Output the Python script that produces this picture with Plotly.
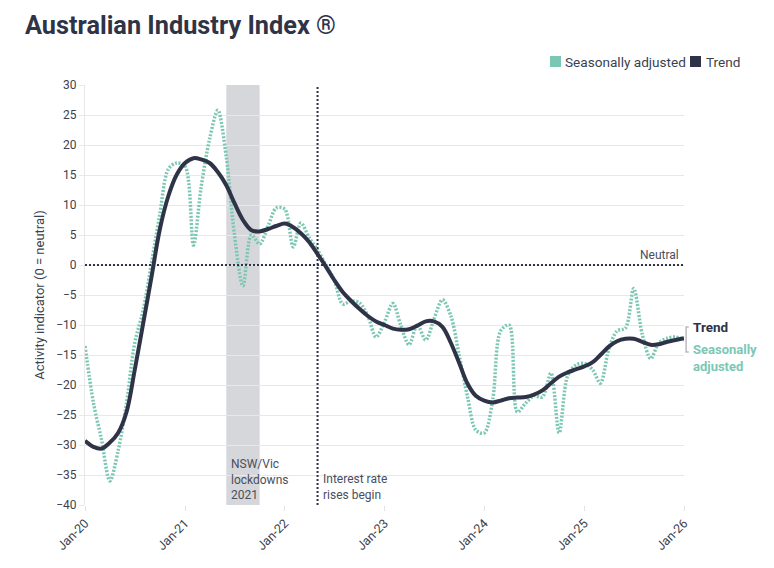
import pandas as pd
import plotly.graph_objects as go

months = pd.date_range("2020-01-01", periods=73, freq="MS")

trend = [-29.3, -30.3, -30.6, -29.6, -28.0, -24.5, -17.5, -9.7, -1.8, 6.0,
         11.5, 15.0, 17.0, 17.8, 17.6, 17.0, 15.5, 13.3, 10.3, 7.5,
         5.8, 5.6, 6.0, 6.5, 6.9, 6.3, 5.3, 3.8, 1.8, -0.3,
         -2.5, -4.5, -6.0, -7.3, -8.5, -9.4, -10.0, -10.6, -10.8, -10.7,
         -10.1, -9.4, -9.4, -10.3, -13.0, -16.3, -19.8, -21.8, -22.6, -22.9,
         -22.6, -22.2, -22.1, -22.0, -21.6, -20.9, -19.7, -18.6, -17.9, -17.4,
         -16.9, -16.2, -15.0, -13.6, -12.7, -12.3, -12.3, -12.8, -13.3, -13.2,
         -12.8, -12.5, -12.2]

seasonally_adjusted = [-13.5, -23, -29, -36, -31, -23, -13, -7.5, 0.5, 8.5,
                       16, 17, 16.5, 3.3, 13, 21, 25.8, 18, 5, -3.5,
                       5, 3.5, 6.5, 9.5, 9.3, 3, 7, 4.5, 2.5, 0,
                       -2.5, -6.5, -6, -6.3, -8.5, -12, -9.5, -6.4, -10, -13.3,
                       -10, -12.5, -9, -5.8, -8.5, -15, -22, -27.5, -28, -22.5,
                       -11, -10, -24.5, -23, -21.8, -22, -18, -28, -18.5, -16.7,
                       -16.4, -17.5, -19.7, -14, -11, -10.5, -3.9, -11.5, -15.6, -13,
                       -12.2, -12, -12.5]

series_names = ["Seasonally adjusted", "Trend"]
lockdown_start, lockdown_end = "2021-06-01", "2021-10-01"
rate_rise = "2022-05-01"
x_start, x_end = "2020-01-01", "2026-01-01"
tick_dates = pd.date_range("2020-01-01", "2026-01-01", freq="YS")

TEAL = "#7cc7b4"
NAVY = "#2f3347"
TXT = "#3b3f4f"
NOTE = "#4a4e5c"
FONT = "Roboto"

fig = go.Figure()

fig.add_trace(go.Scatter(
    x=months, y=seasonally_adjusted, mode="lines", name=series_names[0], showlegend=False,
    line=dict(color=TEAL, width=3.5, dash="2px,1.6px", shape="spline", smoothing=0.9),
    hoverinfo="skip"))
fig.add_trace(go.Scatter(
    x=months, y=trend, mode="lines", name=series_names[1], showlegend=False,
    line=dict(color=NAVY, width=4, shape="spline", smoothing=1.0),
    hoverinfo="skip"))

# lockdown shading
fig.add_shape(type="rect", xref="x", yref="paper", x0=lockdown_start, x1=lockdown_end,
              y0=0, y1=1, fillcolor="#d6d7db", line=dict(width=0), layer="below")
# neutral line
fig.add_shape(type="line", xref="paper", yref="y", x0=0, x1=1, y0=0, y1=0,
              line=dict(color=NAVY, width=2, dash="2px,2px"))
# interest rate line
fig.add_shape(type="line", xref="x", yref="paper", x0=rate_rise, x1=rate_rise, y0=0, y1=1,
              line=dict(color=NAVY, width=2, dash="2px,2px"))
# bracket at right
fig.add_shape(type="path", xref="paper", yref="paper",
              path="M 1.008 0.424 L 1.0035 0.424 L 1.0035 0.364 L 1.008 0.364",
              line=dict(color="#b9bbc2", width=1.5))

# legend (squares + text)
fig.add_shape(type="rect", xref="paper", yref="paper", x0=0.7763, x1=0.7947,
              y0=1.0429, y1=1.0690, fillcolor=TEAL, line=dict(width=0))
fig.add_shape(type="rect", xref="paper", yref="paper", x0=1.0100, x1=1.0284,
              y0=1.0429, y1=1.0690, fillcolor=NAVY, line=dict(width=0))
fig.add_annotation(x=0.7975, y=1.0548, xref="paper", yref="paper", text=series_names[0],
                   showarrow=False, xanchor="left", yanchor="middle",
                   font=dict(family=FONT, size=13.6, color=TXT))
fig.add_annotation(x=1.0334, y=1.0548, xref="paper", yref="paper", text=series_names[1],
                   showarrow=False, xanchor="left", yanchor="middle",
                   font=dict(family=FONT, size=13.6, color=TXT))

fig.add_annotation(x=x_end, y=0, xref="x", yref="y", text="Neutral", showarrow=False,
                   xanchor="right", yanchor="bottom", xshift=-3, yshift=1,
                   font=dict(family=FONT, size=12, color=NOTE))
fig.add_annotation(x=lockdown_start, y=-40, xref="x", yref="y",
                   text="NSW/Vic<br>lockdowns<br>2021", showarrow=False, align="left",
                   xanchor="left", yanchor="bottom", xshift=3, yshift=1,
                   font=dict(family=FONT, size=12, color=NOTE))
fig.add_annotation(x=rate_rise, y=-40, xref="x", yref="y",
                   text="Interest rate<br>rises begin", showarrow=False, align="left",
                   xanchor="left", yanchor="bottom", xshift=3, yshift=1,
                   font=dict(family=FONT, size=12, color=NOTE))
fig.add_annotation(x=1.011, y=0.425, xref="paper", yref="paper", text="<b>Trend</b>",
                   showarrow=False, xanchor="left", yanchor="middle",
                   font=dict(family=FONT, size=13.5, color=NAVY))
fig.add_annotation(x=1.011, y=0.392, xref="paper", yref="paper",
                   text="<b>Seasonally<br>adjusted</b>", showarrow=False, align="left",
                   xanchor="left", yanchor="top",
                   font=dict(family=FONT, size=13, color=TEAL))

fig.update_layout(
    width=766, height=560,
    margin=dict(l=77, r=90, t=77, b=63),
    paper_bgcolor="white", plot_bgcolor="white",
    font=dict(family=FONT, color=TXT, size=12),
    title=dict(text="<b>Australian Industry Index ®</b>", x=0.0222, xanchor="left",
               y=0.970, yanchor="middle", font=dict(family=FONT, size=25.3, color=NAVY)),
    showlegend=False,
)
fig.update_xaxes(range=[x_start, x_end], tickvals=tick_dates, tickformat="%b-%y",
                 tickangle=-45, showgrid=False, showline=False, zeroline=False,
                 ticks="outside", ticklen=5, tickcolor="#e3e3e3",
                 tickfont=dict(family=FONT, size=12.5, color=TXT))
fig.update_yaxes(range=[-40, 30], dtick=5, showgrid=True, gridcolor="#e8e8e8", gridwidth=1,
                 zeroline=False, showline=True, linecolor="#e8e8e8", linewidth=1,
                 ticks="outside", ticklen=5, tickcolor="#e8e8e8",
                 title=dict(text="Activity indicator (0 = neutral)", standoff=8,
                            font=dict(family=FONT, size=13, color=TXT)),
                 tickfont=dict(family=FONT, size=12, color=TXT))

fig.write_html("out.html")
